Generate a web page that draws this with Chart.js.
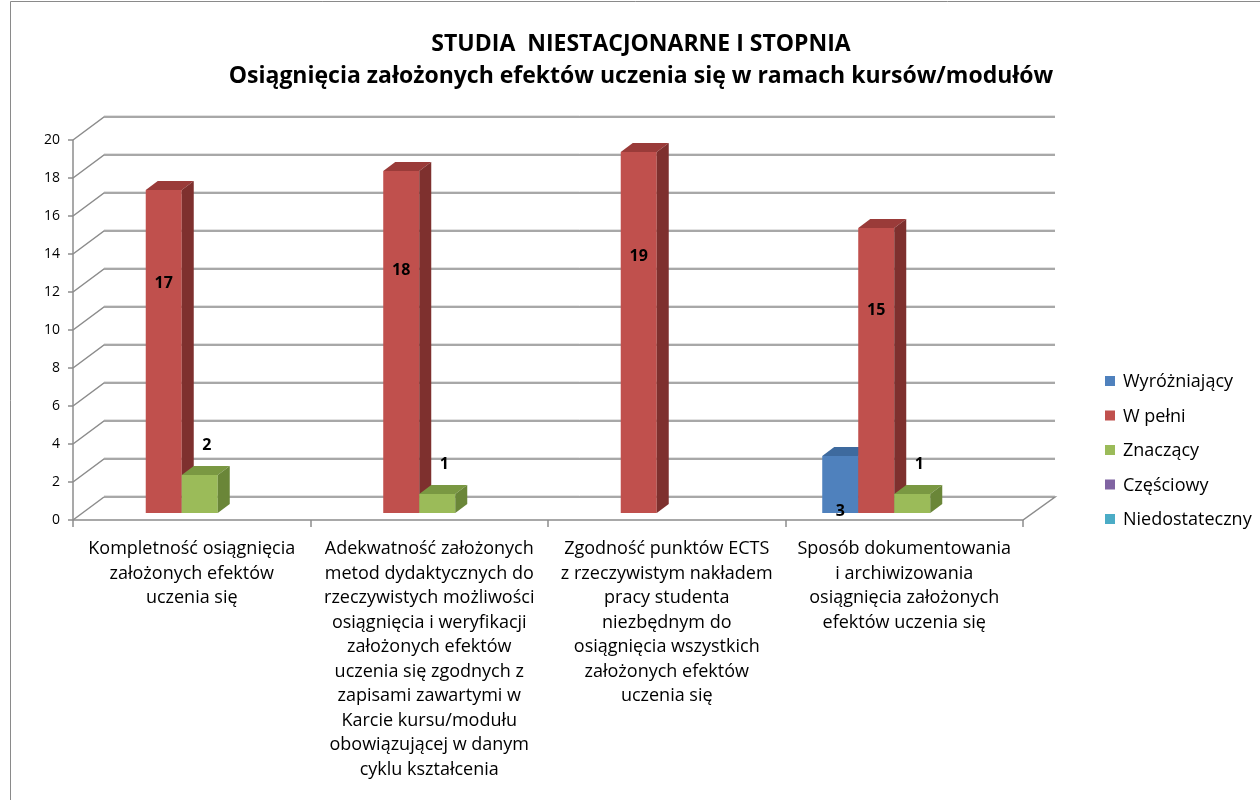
<!DOCTYPE html>
<html>
<head>
<meta charset="utf-8">
<script src="https://cdn.jsdelivr.net/npm/chart.js@4"></script>
<style>
  body { margin: 0; background: #fff; }
  canvas { display: block; }
</style>
</head>
<body>
<canvas id="chart" width="1260" height="800"></canvas>
<script>
const titleLines = ['STUDIA  NIESTACJONARNE I STOPNIA', 'Osiągnięcia założonych efektów uczenia się w ramach kursów/modułów'];

const categories = [
    ['Kompletność osiągnięcia', 'założonych efektów', 'uczenia się'],
    ['Adekwatność założonych', 'metod dydaktycznych do', 'rzeczywistych możliwości', 'osiągnięcia i weryfikacji', 'założonych efektów', 'uczenia się zgodnych z', 'zapisami zawartymi w', 'Karcie kursu/modułu', 'obowiązującej w danym', 'cyklu kształcenia'],
    ['Zgodność punktów ECTS', 'z rzeczywistym nakładem', 'pracy studenta', 'niezbędnym do', 'osiągnięcia wszystkich', 'założonych efektów', 'uczenia się'],
    ['Sposób dokumentowania', 'i archiwizowania', 'osiągnięcia założonych', 'efektów uczenia się']
];

const seriesNames = ['Wyróżniający', 'W pełni', 'Znaczący', 'Częściowy', 'Niedostateczny'];
const wyrozniajacy = [0, 0, 0, 3];
const wPelni = [17, 18, 19, 15];
const znaczacy = [2, 1, 0, 1];
const czesciowy = [0, 0, 0, 0];
const niedostateczny = [0, 0, 0, 0];

const yMin = 0;
const yMax = 20;
const yStep = 2;

// front, top, side colours for each series
const colors = [
    ['#4F81BD', '#3E6A9E', '#36598A'],
    ['#C0504D', '#9A3B39', '#7E302E'],
    ['#9BBB59', '#7A9842', '#6A8638'],
    ['#8064A2', '#654E82', '#574371'],
    ['#4BACC6', '#3A8CA3', '#32798D']
];
const labelPos = ['base', 'inner', 'above', 'above', 'above'];

const values = [wyrozniajacy, wPelni, znaczacy, czesciowy, niedostateczny];

// 3D offsets
const wallDx = 31, wallDy = -23;   // front plane -> back wall
const barDx = 8, barDy = -7;       // front plane -> bar plane
const depthDx = 12, depthDy = -9;  // bar depth

const font = '"Open Sans", "Noto Sans", sans-serif';

const threeD = {
    id: 'threeD',
    beforeDraw(chart) {
        const ctx = chart.ctx;
        const a = chart.chartArea;
        const ys = chart.scales.y;
        ctx.save();
        ctx.fillStyle = '#fff';
        ctx.fillRect(0, 0, chart.width, chart.height);
        // outer border
        ctx.strokeStyle = '#8a8a8a';
        ctx.lineWidth = 1;
        ctx.beginPath();
        ctx.moveTo(10.5, 800);
        ctx.lineTo(10.5, 1.5);
        ctx.lineTo(1260, 1.5);
        ctx.stroke();

        // title
        ctx.fillStyle = '#000';
        ctx.textAlign = 'center';
        ctx.textBaseline = 'middle';
        ctx.font = 'bold 23px ' + font;
        ctx.fillText(titleLines[0], 641, 44);
        ctx.fillText(titleLines[1], 641, 76);

        // back wall grid lines
        for (let v = yMin; v <= yMax; v += yStep) {
            const yf = Math.round(ys.getPixelForValue(v));
            const yb = yf + wallDy;
            ctx.strokeStyle = '#e2e2e2';
            ctx.lineWidth = 1;
            ctx.beginPath();
            ctx.moveTo(a.left + wallDx, yb - 1.5);
            ctx.lineTo(a.right + wallDx + 1, yb - 1.5);
            ctx.stroke();
            ctx.strokeStyle = '#8c8c8c';
            ctx.lineWidth = 1.5;
            ctx.beginPath();
            ctx.moveTo(a.left, yf);
            ctx.lineTo(a.left + wallDx, yb);
            if (v > yMin) ctx.lineTo(a.right + wallDx + 1, yb);
            ctx.stroke();
            // tick mark
            ctx.beginPath();
            ctx.moveTo(a.left - 5, yf);
            ctx.lineTo(a.left, yf);
            ctx.stroke();
        }
        const y0 = Math.round(ys.getPixelForValue(yMin));
        // floor
        ctx.strokeStyle = '#8c8c8c';
        ctx.lineWidth = 1.5;
        ctx.beginPath();
        ctx.moveTo(a.left + wallDx, y0 + wallDy);
        ctx.lineTo(a.right + wallDx + 1, y0 + wallDy);
        ctx.lineTo(a.right, y0);
        ctx.lineTo(a.left, y0);
        ctx.stroke();
        // front axis
        ctx.beginPath();
        ctx.moveTo(a.left, Math.round(ys.getPixelForValue(yMax)));
        ctx.lineTo(a.left, y0);
        ctx.stroke();
        // category ticks
        const n = categories.length;
        for (let i = 0; i <= n; i++) {
            const x = Math.round(a.left + (a.right - a.left) * i / n);
            ctx.beginPath();
            ctx.moveTo(x, y0);
            ctx.lineTo(x, y0 + 7);
            ctx.stroke();
        }

        // legend
        ctx.font = '18px ' + font;
        ctx.textAlign = 'left';
        seriesNames.forEach((name, i) => {
            const cy = 381 + i * 34.5;
            ctx.fillStyle = colors[i][0];
            ctx.fillRect(1105, cy - 5, 10, 10);
            ctx.fillStyle = '#000';
            ctx.fillText(name, 1123, cy + 1);
        });
        ctx.restore();
    },
    beforeDatasetsDraw(chart) {
        const ctx = chart.ctx;
        ctx.save();
        const labels = [];
        for (let i = 0; i < categories.length; i++) {
            chart.data.datasets.forEach((ds, d) => {
                const v = ds.data[i];
                if (!v) return;
                const el = chart.getDatasetMeta(d).data[i];
                const w = el.width;
                const l = el.x - w / 2 + barDx;
                const r = l + w;
                const t = el.y + barDy;
                const b = el.base + barDy;
                const c = colors[d];
                ctx.fillStyle = c[0];
                ctx.fillRect(l, t, w, b - t);
                ctx.fillStyle = c[1];
                ctx.beginPath();
                ctx.moveTo(l, t);
                ctx.lineTo(l + depthDx, t + depthDy);
                ctx.lineTo(r + depthDx, t + depthDy);
                ctx.lineTo(r, t);
                ctx.closePath();
                ctx.fill();
                ctx.fillStyle = c[2];
                ctx.beginPath();
                ctx.moveTo(r, t);
                ctx.lineTo(r + depthDx, t + depthDy);
                ctx.lineTo(r + depthDx, b + depthDy);
                ctx.lineTo(r, b);
                ctx.closePath();
                ctx.fill();
                let lx = (l + r) / 2, ly;
                if (labelPos[d] === 'inner') ly = b - (b - t) * 0.71;
                else if (labelPos[d] === 'base') ly = b - 2;
                else { ly = t - 30; lx += 7; }
                labels.push([String(v), lx, ly]);
            });
        }
        ctx.fillStyle = '#000';
        ctx.font = 'bold 16px ' + font;
        ctx.textAlign = 'center';
        ctx.textBaseline = 'middle';
        labels.forEach(([s, x, y]) => ctx.fillText(s, x, y));
        ctx.restore();
        return false;
    }
};

new Chart(document.getElementById('chart'), {
    type: 'bar',
    data: {
        labels: categories,
        datasets: seriesNames.map((name, i) => ({
            label: name,
            data: values[i],
            backgroundColor: colors[i][0],
            categoryPercentage: 0.758,
            barPercentage: 1
        }))
    },
    options: {
        responsive: false,
        animation: false,
        devicePixelRatio: 1,
        layout: { padding: { left: 10, top: 140, right: 237, bottom: 0 } },
        plugins: {
            legend: { display: false },
            title: { display: false },
            tooltip: { enabled: false }
        },
        scales: {
            x: {
                grid: { display: false, drawTicks: false },
                border: { display: false },
                ticks: {
                    color: '#000',
                    font: { family: font, size: 18, lineHeight: 1.36 },
                    padding: 17,
                    maxRotation: 0,
                    autoSkip: false
                },
                afterFit(s) { s.height = 280; }
            },
            y: {
                min: yMin,
                max: yMax,
                grid: { display: false, drawTicks: false },
                border: { display: false },
                ticks: {
                    stepSize: yStep,
                    color: '#000',
                    font: { family: font, size: 14 },
                    padding: 13
                },
                afterFit(s) { s.width = 63; }
            }
        }
    },
    plugins: [threeD]
});
</script>
</body>
</html>
